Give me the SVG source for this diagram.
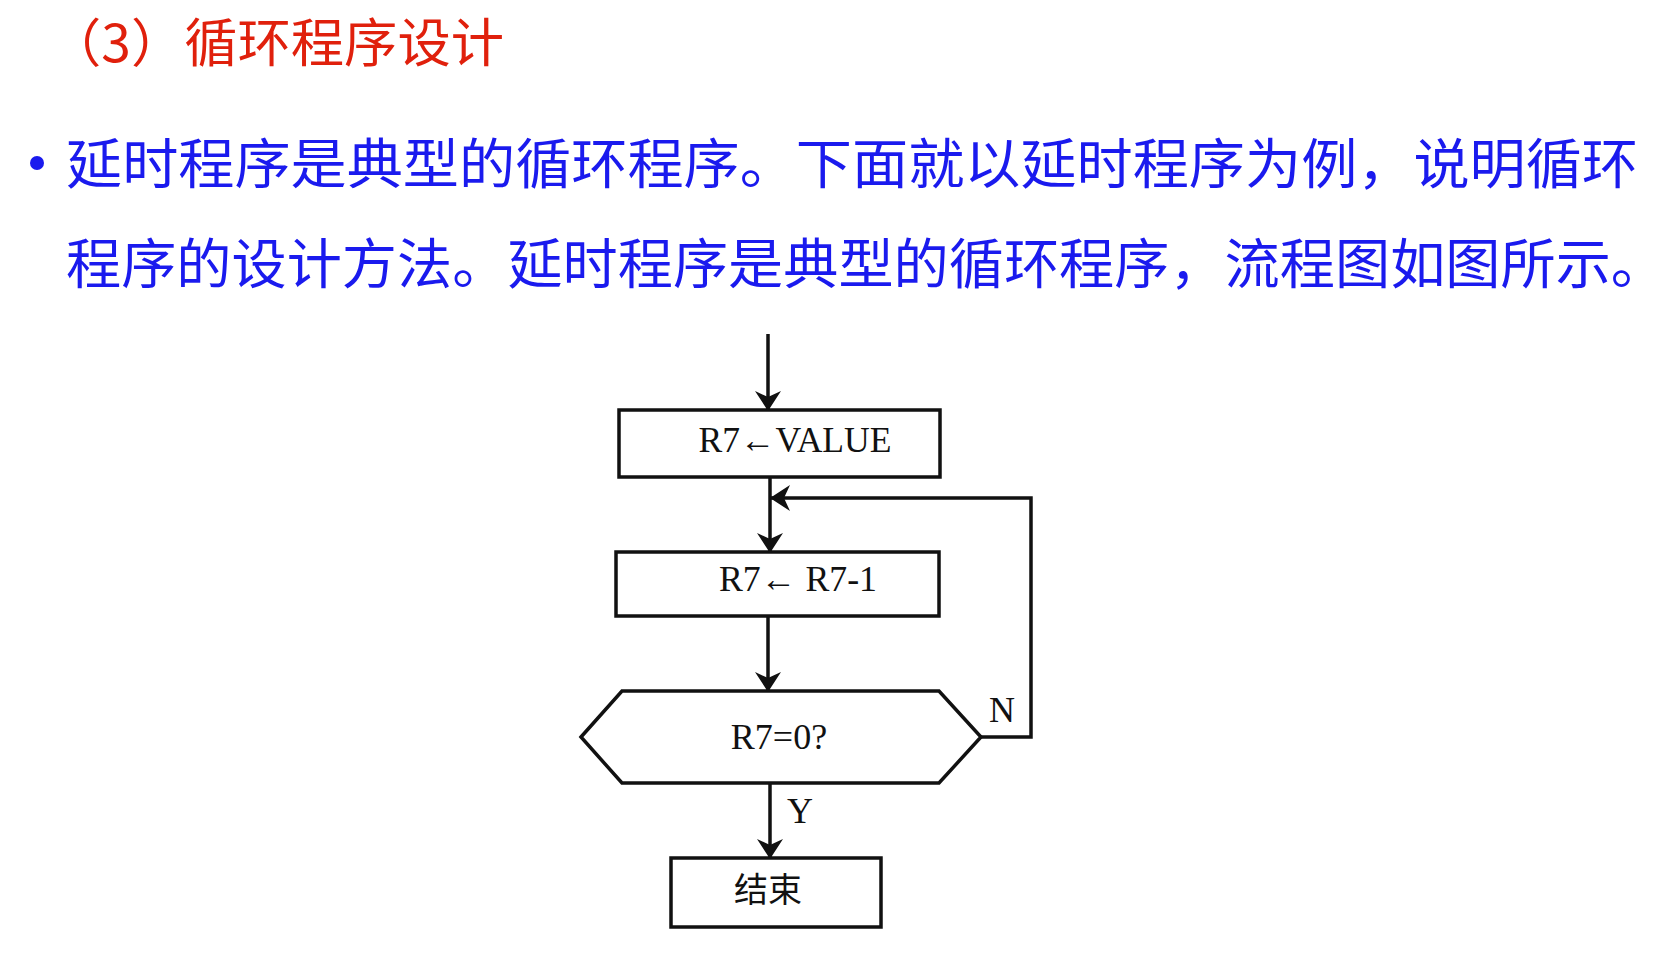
<svg xmlns="http://www.w3.org/2000/svg" width="1672" height="956" viewBox="0 0 1672 956">
<defs>
<style>
.cn{font-family:"Noto Sans CJK SC","Noto Sans",sans-serif}
.lbl{font-family:"Liberation Serif","Noto Sans CJK SC",serif;font-size:36px;fill:#111;text-anchor:middle}
.shape{fill:#fff;stroke:#111;stroke-width:3.5}
.edge{fill:none;stroke:#111;stroke-width:3.5}
</style>
<marker id="ah" viewBox="0 0 20 26" refX="19" refY="13" markerWidth="20" markerHeight="26" markerUnits="userSpaceOnUse" orient="auto">
<path d="M0,0 L20,13 L0,26 L6,13 Z" fill="#111"/>
</marker>
</defs>
<rect width="1672" height="956" fill="#fff"/>
<text class="cn" x="48" y="62" font-size="52" fill="#e0200c" textLength="456" lengthAdjust="spacingAndGlyphs">（3）循环程序设计</text>
<circle cx="37" cy="163" r="7" fill="#1a1aee"/>
<text class="cn" x="66" y="184" font-size="54" fill="#1a1aee" textLength="1572" lengthAdjust="spacingAndGlyphs">延时程序是典型的循环程序。下面就以延时程序为例，说明循环</text>
<text class="cn" x="66" y="284" font-size="54" fill="#1a1aee" textLength="1600" lengthAdjust="spacingAndGlyphs">程序的设计方法。延时程序是典型的循环程序，流程图如图所示。</text>
<g id="connectors">
<line class="edge" x1="768" y1="334" x2="768" y2="410" marker-end="url(#ah)"/>
<line class="edge" x1="770" y1="477" x2="770" y2="552" marker-end="url(#ah)"/>
<line class="edge" x1="768" y1="616" x2="768" y2="691" marker-end="url(#ah)"/>
<line class="edge" x1="770" y1="783" x2="770" y2="858" marker-end="url(#ah)"/>
<polyline class="edge" points="981,737 1031,737 1031,498 771,498" marker-end="url(#ah)"/>
<text class="lbl" x="1002" y="722">N</text>
<text class="lbl" x="800" y="823">Y</text>
</g>
<g id="init"><rect class="shape" x="619" y="410" width="321" height="67"/><text class="lbl" x="795" y="452" textLength="193" lengthAdjust="spacingAndGlyphs">R7←VALUE</text></g>
<g id="dec"><rect class="shape" x="616" y="552" width="323" height="64"/><text class="lbl" x="798" y="591" textLength="158" lengthAdjust="spacingAndGlyphs">R7← R7-1</text></g>
<g id="test"><polygon class="shape" points="581,737 622,691 939,691 981,737 939,783 622,783"/><text class="lbl" x="779" y="749">R7=0?</text></g>
<g id="end"><rect class="shape" x="671" y="858" width="210" height="69"/><text class="cn" x="768" y="902" font-size="34" fill="#111" text-anchor="middle">结束</text></g>
</svg>
